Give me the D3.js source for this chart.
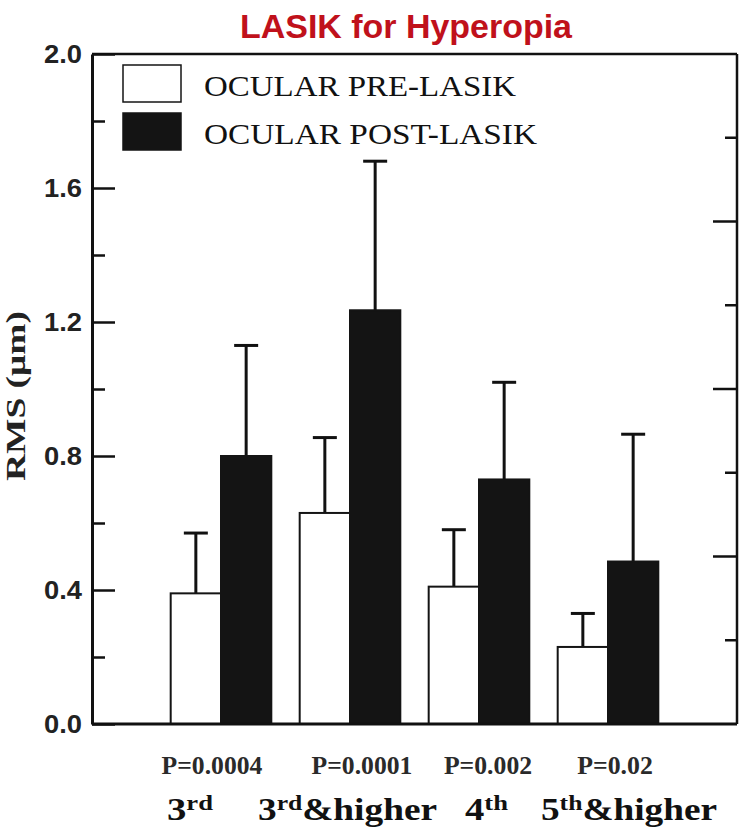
<!DOCTYPE html>
<html>
<head>
<meta charset="utf-8">
<script src="https://cdn.jsdelivr.net/npm/d3@7"></script>
<style>
  body { margin: 0; background: #fff; }
  svg { display: block; }
</style>
</head>
<body>
<svg id="chart" width="742" height="829"></svg>
<script>
// chart data
const categories = ["3rd", "3rd&higher", "4th", "5th&higher"];
const preValues = [0.39, 0.63, 0.41, 0.23];
const preErrors = [0.18, 0.225, 0.17, 0.10];
const postValues = [0.80, 1.235, 0.73, 0.485];
const postErrors = [0.33, 0.445, 0.29, 0.38];
const pValues = ["P=0.0004", "P=0.0001", "P=0.002", "P=0.02"];
const seriesNames = ["OCULAR PRE-LASIK", "OCULAR POST-LASIK"];
const yMajorTicks = [0, 0.4, 0.8, 1.2, 1.6, 2.0];
const yMinorTicks = [0.2, 0.6, 1.0, 1.4, 1.8];
const rightTicks = [1, 2, 3, 4, 5, 6, 7];

// category label pieces: base text, superscript, rest
const catParts = [
    ["3", "rd", ""],
    ["3", "rd", "&higher"],
    ["4", "th", ""],
    ["5", "th", "&higher"]
];

let svg = d3.select("#chart");
let plotLeft = 92, plotRight = 737, plotTop = 54, plotBottom = 724;

let y = d3.scaleLinear().domain([0, 2.0]).range([plotBottom, plotTop]);
let yRight = d3.scaleLinear().domain([0, 8]).range([plotBottom, plotTop]);
let x = d3.scaleBand().domain(categories).range([plotLeft, plotRight]).paddingInner(0.22).paddingOuter(0.61);
let xSeries = d3.scaleBand().domain([0, 1]).range([0, x.bandwidth()]);

// title
svg.append("text")
    .attr("x", 406).attr("y", 38)
    .attr("text-anchor", "middle")
    .attr("textLength", 332).attr("lengthAdjust", "spacingAndGlyphs")
    .style("font-family", "'Liberation Sans', Arial, sans-serif")
    .style("font-weight", "bold")
    .style("font-size", "34px")
    .style("fill", "#c0111b")
    .text("LASIK for Hyperopia");

// bars
let groups = svg.append("g").selectAll("g")
    .data(categories)
    .enter().append("g")
    .attr("transform", function(d){ return "translate(" + x(d) + ",0)"; });

let barData = categories.map(function(c, i){
    return [
        {s: 0, v: preValues[i], e: preErrors[i]},
        {s: 1, v: postValues[i], e: postErrors[i]}
    ];
});

// error bars first so bars sit on top
groups.selectAll("line.err")
    .data(function(d, i){ return barData[i]; })
    .enter().append("line").classed("err", true)
    .attr("x1", function(d){ return xSeries(d.s) + xSeries.bandwidth()/2; })
    .attr("x2", function(d){ return xSeries(d.s) + xSeries.bandwidth()/2; })
    .attr("y1", function(d){ return y(d.v); })
    .attr("y2", function(d){ return y(d.v + d.e); })
    .style("stroke", "#111").style("stroke-width", 3);
groups.selectAll("line.cap")
    .data(function(d, i){ return barData[i]; })
    .enter().append("line").classed("cap", true)
    .attr("x1", function(d){ return xSeries(d.s) + xSeries.bandwidth()/2 - 12; })
    .attr("x2", function(d){ return xSeries(d.s) + xSeries.bandwidth()/2 + 12; })
    .attr("y1", function(d){ return y(d.v + d.e); })
    .attr("y2", function(d){ return y(d.v + d.e); })
    .style("stroke", "#111").style("stroke-width", 3);

groups.selectAll("rect")
    .data(function(d, i){ return barData[i]; })
    .enter().append("rect")
    .attr("x", function(d){ return xSeries(d.s); })
    .attr("width", xSeries.bandwidth())
    .attr("y", function(d){ return y(d.v); })
    .attr("height", function(d){ return y(0) - y(d.v); })
    .style("fill", function(d){ return d.s == 0 ? "#fff" : "#141414"; })
    .style("stroke", "#141414").style("stroke-width", 2);

// frame: top, right and bottom lines
svg.append("line").attr("x1", plotLeft).attr("x2", plotRight).attr("y1", plotTop).attr("y2", plotTop)
    .style("stroke", "#111").style("stroke-width", 2.5);
svg.append("line").attr("x1", plotRight).attr("x2", plotRight).attr("y1", plotTop).attr("y2", plotBottom)
    .style("stroke", "#111").style("stroke-width", 2.5);
svg.append("line").attr("x1", plotLeft).attr("x2", plotRight).attr("y1", plotBottom).attr("y2", plotBottom)
    .style("stroke", "#111").style("stroke-width", 3);

// left axis, ticks pointing inward
let yAxis = svg.append("g").attr("transform", "translate(" + plotLeft + ",0)")
    .call(d3.axisLeft(y).tickValues(yMajorTicks).tickSizeInner(-23).tickSizeOuter(0).tickPadding(10).tickFormat(d3.format(".1f")));
yAxis.select(".domain").style("stroke", "#111").style("stroke-width", 3);
yAxis.selectAll(".tick line").style("stroke", "#111").style("stroke-width", 2.5);
yAxis.selectAll(".tick text")
    .style("font-family", "'Liberation Sans', Arial, sans-serif")
    .style("font-weight", "bold")
    .style("font-size", "25px")
    .style("fill", "#222")
    .attr("textLength", 38).attr("lengthAdjust", "spacingAndGlyphs");

let yMinor = svg.append("g").attr("transform", "translate(" + plotLeft + ",0)")
    .call(d3.axisLeft(y).tickValues(yMinorTicks).tickSizeInner(-13).tickSizeOuter(0).tickFormat(""));
yMinor.select(".domain").remove();
yMinor.selectAll(".tick line").style("stroke", "#111").style("stroke-width", 2.5);

// right axis ticks, alternating length
svg.append("g").selectAll("line")
    .data(rightTicks)
    .enter().append("line")
    .attr("x1", plotRight)
    .attr("x2", function(d){ return d % 2 == 0 ? plotRight - 24 : plotRight - 12; })
    .attr("y1", function(d){ return yRight(d); })
    .attr("y2", function(d){ return yRight(d); })
    .style("stroke", "#111").style("stroke-width", 2.5);

// y axis title
svg.append("text")
    .attr("transform", "translate(25,396) rotate(-90)")
    .attr("text-anchor", "middle")
    .attr("textLength", 170).attr("lengthAdjust", "spacingAndGlyphs")
    .style("font-family", "'Liberation Serif', 'Times New Roman', serif")
    .style("font-weight", "bold")
    .style("font-size", "27px")
    .style("fill", "#222")
    .text("RMS (\u03bcm)");

// legend
let legend = svg.append("g").selectAll("g")
    .data(seriesNames)
    .enter().append("g")
    .attr("transform", function(d, i){ return "translate(123," + (65 + i * 48) + ")"; });
legend.append("rect")
    .attr("width", 58).attr("height", 37)
    .style("fill", function(d, i){ return i == 0 ? "#fff" : "#141414"; })
    .style("stroke", "#141414").style("stroke-width", 1.5);
legend.append("text")
    .attr("x", 81).attr("y", 31)
    .attr("textLength", function(d, i){ return i == 0 ? 312 : 333; })
    .attr("lengthAdjust", "spacingAndGlyphs")
    .style("font-family", "'Liberation Serif', 'Times New Roman', serif")
    .style("font-size", "30px")
    .style("fill", "#111")
    .text(function(d){ return d; });

// p-values, placed under each group
let pOffsets = [-9, 12, 9, 7];
svg.append("g").selectAll("text")
    .data(pValues)
    .enter().append("text")
    .attr("x", function(d, i){ return x(categories[i]) + x.bandwidth()/2 + pOffsets[i]; })
    .attr("y", 774)
    .attr("text-anchor", "middle")
    .attr("textLength", function(d){ return d.length * 12.6; })
    .attr("lengthAdjust", "spacingAndGlyphs")
    .style("font-family", "'Liberation Serif', 'Times New Roman', serif")
    .style("font-weight", "bold")
    .style("font-size", "26px")
    .style("fill", "#2a2a2a")
    .text(function(d){ return d; });

// category labels with superscripts
let catOffsets = [-54, -92, -14, -67];
let catWidths = [46, 179, 43, 176];
let cats = svg.append("g").selectAll("text")
    .data(catParts)
    .enter().append("text")
    .attr("x", function(d, i){ return x(categories[i]) + x.bandwidth()/2 + catOffsets[i]; })
    .attr("y", 820)
    .attr("textLength", function(d, i){ return catWidths[i]; })
    .attr("lengthAdjust", "spacingAndGlyphs")
    .style("font-family", "'Liberation Serif', 'Times New Roman', serif")
    .style("font-weight", "bold")
    .style("fill", "#111");
cats.append("tspan").style("font-size", "32px").text(function(d){ return d[0]; });
cats.append("tspan").attr("dy", -10).style("font-size", "22px").text(function(d){ return d[1]; });
cats.append("tspan").attr("dy", 10).style("font-size", "32px").text(function(d){ return d[2]; });
</script>
</body>
</html>
